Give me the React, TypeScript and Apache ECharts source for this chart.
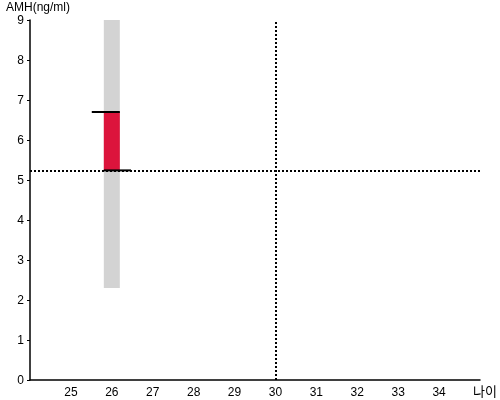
import React, { useEffect, useRef } from "react";
import * as echarts from "echarts";

const ages = [26];
const refLow = [2.3];
const refHigh = [9];
const amhLow = [5.24];
const amhHigh = [6.7];
const patientAge = 30;
const patientAmh = 5.24;
const xMin = 24;
const xMax = 35;
const yMin = 0;
const yMax = 9;

export default function App() {
  const ref = useRef<HTMLDivElement>(null);
  useEffect(() => {
    const chart = echarts.init(ref.current!, null, { renderer: "svg" });
    const font = "Arial, 'Liberation Sans', sans-serif";
    const rangeData = ages.map((a, i) => [a, refLow[i], refHigh[i], amhLow[i], amhHigh[i]]);
    chart.setOption({
      animation: false,
      grid: { left: 30, right: 20, top: 20, bottom: 20 },
      xAxis: {
        type: "value",
        min: xMin,
        max: xMax,
        interval: 1,
        name: "나이",
        nameLocation: "end",
        nameGap: 0,
        nameTextStyle: { color: "#000", fontSize: 13, fontFamily: "'Noto Sans CJK KR', sans-serif", verticalAlign: "top", align: "left", padding: [4, 0, 0, -7] },
        axisLine: { lineStyle: { color: "#000", width: 1.5 } },
        axisTick: { show: false },
        splitLine: { show: false },
        axisLabel: {
          color: "#000",
          fontSize: 12,
          fontFamily: font,
          margin: 6,
          formatter: (v: number) => (v === xMin || v === xMax ? "" : String(v)),
        },
      },
      yAxis: {
        type: "value",
        min: yMin,
        max: yMax,
        interval: 1,
        name: "AMH(ng/ml)",
        nameLocation: "end",
        nameGap: 7,
        nameTextStyle: { color: "#000", fontSize: 12, fontFamily: font, align: "left", padding: [0, 0, 0, -24] },
        axisLine: { show: true, lineStyle: { color: "#000", width: 1.5 } },
        axisTick: { show: true, length: 3, lineStyle: { color: "#000" } },
        splitLine: { show: false },
        axisLabel: { color: "#000", fontSize: 12, fontFamily: font, margin: 6 },
      },
      series: [
        {
          type: "custom",
          data: rangeData,
          renderItem: (params: any, api: any) => {
            const x = api.value(0);
            const pLowRef = api.coord([x, api.value(1)]);
            const pHighRef = api.coord([x, api.value(2)]);
            const pLow = api.coord([x, api.value(3)]);
            const pHigh = api.coord([x, api.value(4)]);
            const halfW = 8;
            const unit = api.size([1, 0])[0];
            return {
              type: "group",
              children: [
                {
                  type: "rect",
                  shape: { x: pHighRef[0] - halfW, y: pHighRef[1], width: halfW * 2, height: pLowRef[1] - pHighRef[1] },
                  style: { fill: "#D3D3D3" },
                },
                {
                  type: "rect",
                  shape: { x: pHigh[0] - halfW, y: pHigh[1], width: halfW * 2, height: pLow[1] - pHigh[1] },
                  style: { fill: "#DC143C" },
                },
                {
                  type: "line",
                  shape: { x1: pHigh[0] - 0.49 * unit, y1: pHigh[1], x2: pHigh[0] + halfW, y2: pHigh[1] },
                  style: { stroke: "#000", lineWidth: 2 },
                },
                {
                  type: "line",
                  shape: { x1: pLow[0] - halfW, y1: pLow[1], x2: pLow[0] + 0.47 * unit, y2: pLow[1] },
                  style: { stroke: "#000", lineWidth: 2 },
                },
              ],
            };
          },
          z: 3,
        },
        {
          type: "line",
          data: [],
          markLine: {
            silent: true,
            symbol: "none",
            label: { show: false },
            lineStyle: { color: "#000", width: 2, type: [2, 2] },
            data: [
              [{ coord: [xMin, patientAmh] }, { coord: [xMax, patientAmh] }],
              [{ coord: [patientAge, yMin] }, { coord: [patientAge, yMax] }],
            ],
          },
          z: 2,
        },
      ],
    });
    return () => chart.dispose();
  }, []);
  return <div ref={ref} style={{ position: "fixed", left: 0, top: 0, width: 500, height: 400 }} />;
}
